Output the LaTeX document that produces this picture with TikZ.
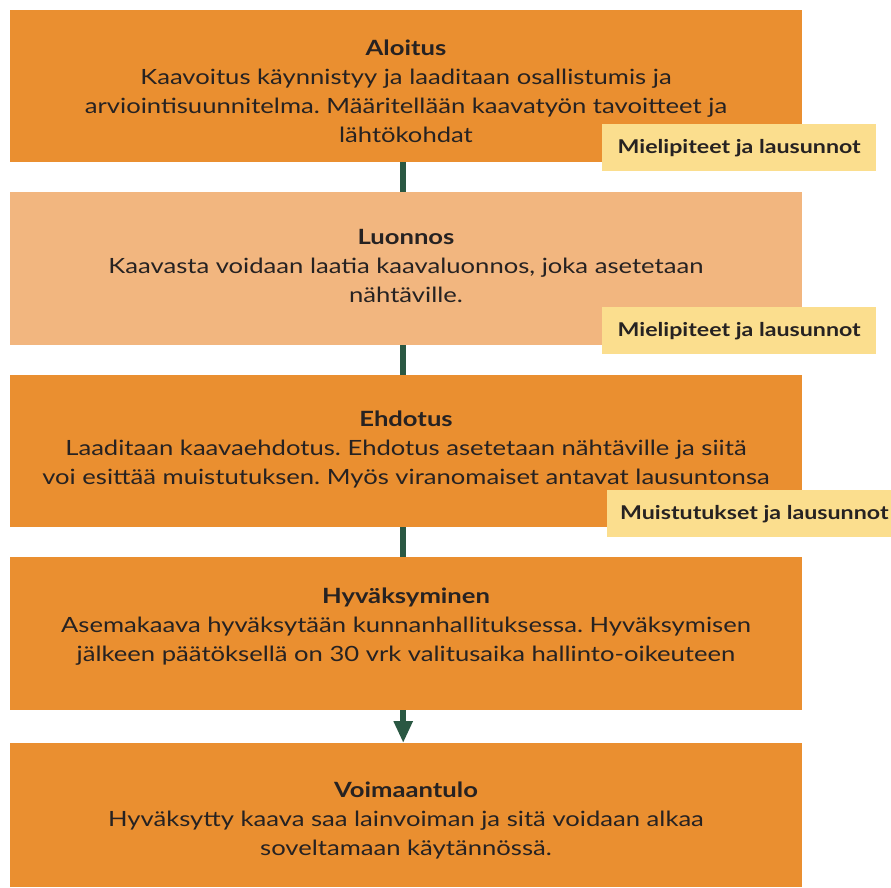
\documentclass[tikz,border=0pt]{standalone}
\usepackage{fontspec}
\setmainfont{Lato}[FakeStretch=1.22]
\frenchspacing
\usetikzlibrary{arrows.meta}
\definecolor{orangeA}{HTML}{EA8F30}
\definecolor{orangeB}{HTML}{F2B67F}
\definecolor{tagY}{HTML}{FBDE8E}
\definecolor{connG}{HTML}{2A5843}
\definecolor{txt}{HTML}{262222}
\tikzset{
  stage/.style={rectangle, inner sep=0pt, minimum width=792pt, anchor=north west},
  body/.style={align=center, text=txt, font=\fontsize{21}{29}\selectfont, anchor=north, inner sep=0pt},
  tag/.style={rectangle, fill=tagY, text=txt, font=\fontsize{19}{23}\selectfont\bfseries, anchor=north west, inner xsep=13pt, minimum height=47pt},
  conn/.style={draw=connG, line width=6pt},
}
\begin{document}
\begin{tikzpicture}[x=1pt,y=-1pt]
\useasboundingbox (0,0) rectangle (891,887);
% stages
\node[stage, fill=orangeA, minimum height=152pt] (s1) at (10,10) {};
\node[stage, fill=orangeB, minimum height=153pt] (s2) at (10,192) {};
\node[stage, fill=orangeA, minimum height=152pt] (s3) at (10,375) {};
\node[stage, fill=orangeA, minimum height=153pt] (s4) at (10,557) {};
\node[stage, fill=orangeA, minimum height=144pt] (s5) at (10,743) {};
% texts
\node[body] (t1) at (406,39.5) {\textbf{Aloitus}\\Kaavoitus käynnistyy ja laaditaan osallistumis ja\\arviointisuunnitelma. Määritellään kaavatyön tavoitteet ja\\lähtökohdat};
\node[body] (t2) at (406,229.5) {\textbf{Luonnos}\\Kaavasta voidaan laatia kaavaluonnos, joka asetetaan\\nähtäville.};
\node[body] (t3) at (406,410.5) {\textbf{Ehdotus}\\Laaditaan kaavaehdotus. Ehdotus asetetaan nähtäville ja siitä\\voi esittää muistutuksen. Myös viranomaiset antavat lausuntonsa};
\node[body] (t4) at (406,587.5) {\textbf{Hyväksyminen}\\Asemakaava hyväksytään kunnanhallituksessa. Hyväksymisen\\jälkeen päätöksellä on 30 vrk valitusaika hallinto-oikeuteen};
\node[body] (t5) at (406,781.5) {\textbf{Voimaantulo}\\Hyväksytty kaava saa lainvoiman ja sitä voidaan alkaa\\soveltamaan käytännössä.};
% connectors
\draw[conn] ([xshift=-3pt]s1.south) -- ([xshift=-3pt]s2.north);
\draw[conn] ([xshift=-3pt]s2.south) -- ([xshift=-3pt]s3.north);
\draw[conn] ([xshift=-3pt]s3.south) -- ([xshift=-3pt]s4.north);
\draw[conn, -{Triangle[width=18pt,length=22pt]}] ([xshift=-3pt]s4.south) -- ([xshift=-3pt]s5.north);
% tags
\node[tag, minimum width=274pt] (g1) at (602,124) {Mielipiteet ja lausunnot};
\node[tag, minimum width=274pt] (g2) at (602,307) {Mielipiteet ja lausunnot};
\node[tag] (g3) at (607,490) {Muistutukset ja lausunnot};
\end{tikzpicture}
\end{document}
